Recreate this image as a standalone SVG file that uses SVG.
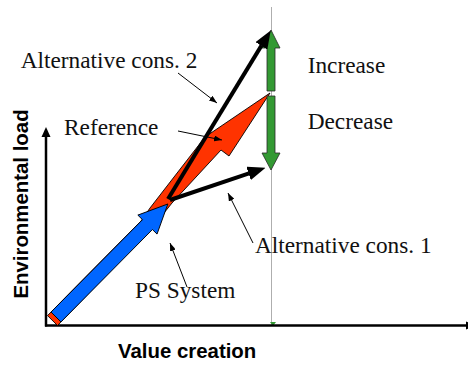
<svg xmlns="http://www.w3.org/2000/svg" width="468" height="365" viewBox="0 0 468 365">
<style>
.lbl{font-family:"Liberation Serif","Times New Roman",serif;font-size:23.3px;fill:#111}
.ax{font-family:"Liberation Sans",Arial,sans-serif;font-size:20.4px;font-weight:bold;fill:#000}
.axis{stroke:#000;stroke-width:2.5;fill:none}
.lead{stroke:#000;stroke-width:1;fill:none;marker-end:url(#sm)}
.thick{stroke:#000;stroke-width:4;fill:none;marker-end:url(#big)}
.green{fill:#339933;stroke:#2a2a2a;stroke-width:0.8}
</style>
<defs>
<marker id="sm" viewBox="0 0 8 6" refX="8" refY="3" markerWidth="8" markerHeight="6" orient="auto" markerUnits="userSpaceOnUse"><path d="M0,0 L8,3 L0,6 z" fill="#000"/></marker>
<marker id="big" viewBox="0 0 18 14" refX="0.5" refY="7" markerWidth="18" markerHeight="14" orient="auto" markerUnits="userSpaceOnUse"><path d="M0,0 L18,7 L0,14 z" fill="#000"/></marker>
</defs>
<rect width="468" height="365" fill="#fff"/>

<g id="axes">
<line x1="271.5" y1="7" x2="271.5" y2="325" stroke="#999" stroke-width="0.8"/>
<polygon points="270,322 276,322 273,326" fill="#339933"/>
<line class="axis" x1="46" y1="135" x2="46" y2="326.5"/>
<polygon points="46,127 50.5,137 41.5,137" fill="#000"/>
<line class="axis" x1="45" y1="325.5" x2="466" y2="325.5"/>
<polygon points="466,321.5 476,325.5 466,329.5" fill="#000"/>
<text class="ax" transform="translate(28,204) rotate(-90)" text-anchor="middle">Environmental load</text>
<text class="ax" x="118" y="358">Value creation</text>
</g>

<g id="reference">
<polygon points="270,93 229,156 221,150 172,203 152,228 57.5,325.5 47.5,315.6 141,221 150,208 205,137" fill="#ff3300" stroke="#000" stroke-width="0.9" stroke-linejoin="miter"/>
<text class="lbl" x="64" y="135">Reference</text>
</g>

<g id="ps-system">
<polygon transform="translate(56,317) rotate(-45.3)" points="0,-7 130,-7 130,-13.5 159,0 130,13.5 130,7 0,7" fill="#0066ff" stroke="#000" stroke-width="0.9"/>
<text class="lbl" x="135" y="298.3">PS System</text>
</g>

<g id="increase">
<polygon class="green" points="271,30 280,48 275,48 275,91 267,91 267,48 262,48"/>
<text class="lbl" x="307.7" y="72.7">Increase</text>
</g>

<g id="decrease">
<polygon class="green" points="267,96 275,96 275,153 280,153 271,170 262,153 267,153"/>
<text class="lbl" x="307.7" y="129.3">Decrease</text>
</g>

<g id="alt2">
<line class="thick" x1="168" y1="199" x2="261.6" y2="45.4"/>
<text class="lbl" x="20.7" y="68.3">Alternative cons. 2</text>
</g>

<g id="alt1">
<line class="thick" x1="170" y1="200" x2="249" y2="173.3"/>
<text class="lbl" x="255" y="253.3">Alternative cons. 1</text>
</g>

<g id="connectors">
<line class="lead" x1="178" y1="73" x2="217" y2="103"/>
<line class="lead" x1="178" y1="131" x2="222" y2="140"/>
<line class="lead" x1="253" y1="243" x2="228" y2="193"/>
<line class="lead" x1="187" y1="287" x2="170" y2="243"/>
</g>
</svg>
